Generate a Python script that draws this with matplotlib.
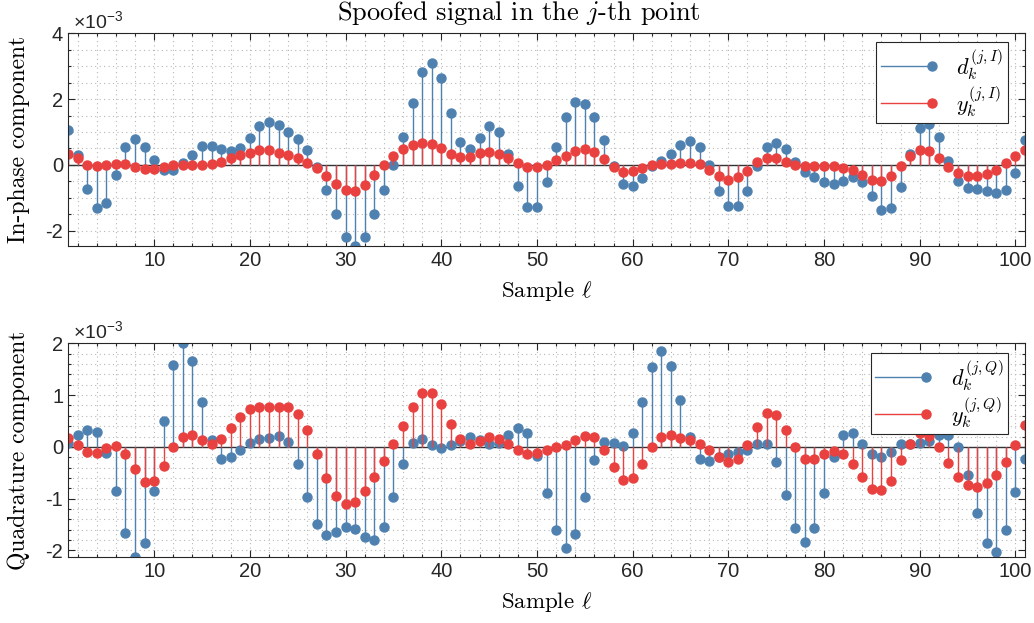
import numpy as np
import matplotlib
matplotlib.use('Agg')
import matplotlib.pyplot as plt
from matplotlib.lines import Line2D
from matplotlib.legend_handler import HandlerLine2D
from matplotlib.ticker import MultipleLocator

plt.rcParams['mathtext.fontset'] = 'cm'
plt.rcParams['axes.unicode_minus'] = False

# all amplitudes are in units of 1e-3
samples = np.arange(1, 102)

d_I = [1.05, 0.29, -0.73, -1.32, -1.16, -0.30, 0.54, 0.80, 0.54, 0.15,
       -0.15, -0.15, 0.05, 0.30, 0.56, 0.56, 0.49, 0.43, 0.52, 0.82,
       1.18, 1.31, 1.22, 1.01, 0.78, 0.45, -0.08, -0.78, -1.51, -2.19,
       -2.47, -2.19, -1.51, -0.76, -0.01, 0.84, 1.89, 2.81, 3.11, 2.63,
       1.59, 0.69, 0.48, 0.81, 1.18, 1.01, 0.32, -0.64, -1.29, -1.29,
       -0.52, 0.54, 1.44, 1.90, 1.85, 1.45, 0.75, -0.05, -0.59, -0.64,
       -0.39, -0.03, 0.12, 0.32, 0.59, 0.74, 0.53, -0.02, -0.79, -1.25,
       -1.25, -0.79, -0.05, 0.54, 0.67, 0.47, 0.10, -0.23, -0.38, -0.53,
       -0.58, -0.50, -0.38, -0.52, -0.96, -1.37, -1.31, -0.66, 0.32, 1.13,
       1.25, 0.86, 0.12, -0.48, -0.71, -0.74, -0.81, -0.86, -0.76, -0.24,
       0.76]

y_I = [0.34, 0.20, 0.01, -0.04, -0.01, 0.04, 0.02, -0.08, -0.14, -0.13,
       -0.08, -0.01, 0.00, 0.00, 0.00, 0.02, 0.10, 0.22, 0.29, 0.37,
       0.44, 0.44, 0.37, 0.29, 0.20, 0.07, -0.09, -0.34, -0.59, -0.77,
       -0.79, -0.61, -0.30, 0.01, 0.27, 0.47, 0.61, 0.67, 0.63, 0.50,
       0.32, 0.23, 0.25, 0.35, 0.39, 0.34, 0.22, 0.05, -0.06, -0.08,
       0.00, 0.16, 0.28, 0.42, 0.47, 0.39, 0.18, -0.08, -0.23, -0.20,
       -0.09, -0.01, 0.02, 0.02, 0.05, 0.07, 0.02, -0.15, -0.35, -0.46,
       -0.38, -0.18, 0.10, 0.22, 0.20, 0.08, -0.01, -0.04, -0.03, -0.03,
       -0.05, -0.10, -0.16, -0.31, -0.46, -0.48, -0.33, -0.04, 0.27, 0.46,
       0.42, 0.20, -0.06, -0.26, -0.34, -0.35, -0.29, -0.15, 0.05, 0.26,
       0.46]

d_Q = [0.08, 0.23, 0.33, 0.28, -0.12, -0.86, -1.67, -2.13, -1.86, -0.86,
       0.50, 1.59, 2.00, 1.65, 0.86, 0.14, -0.24, -0.20, -0.05, 0.08,
       0.15, 0.17, 0.21, 0.10, -0.33, -0.96, -1.48, -1.71, -1.65, -1.55,
       -1.59, -1.74, -1.79, -1.54, -0.96, -0.33, 0.08, 0.16, 0.03, -0.03,
       0.03, 0.12, 0.20, 0.13, 0.05, 0.08, 0.23, 0.36, 0.27, -0.17,
       -0.89, -1.60, -1.95, -1.68, -0.97, -0.26, 0.10, 0.07, 0.02, 0.26,
       0.87, 1.55, 1.86, 1.56, 0.90, 0.20, -0.23, -0.28, -0.20, -0.14,
       -0.09, -0.05, 0.05, 0.05, -0.29, -0.93, -1.56, -1.83, -1.56, -0.89,
       -0.19, 0.23, 0.26, 0.06, -0.14, -0.19, -0.10, 0.05, 0.05, 0.07,
       0.12, 0.23, 0.23, 0.00, -0.54, -1.27, -1.85, -2.03, -1.60, -0.87,
       -0.24]

y_Q = [0.18, 0.04, -0.09, -0.12, -0.03, 0.01, -0.14, -0.43, -0.68, -0.66,
       -0.37, -0.01, 0.20, 0.23, 0.13, 0.06, 0.15, 0.36, 0.57, 0.73,
       0.77, 0.77, 0.77, 0.77, 0.63, 0.32, -0.14, -0.60, -0.94, -1.10,
       -1.06, -0.86, -0.58, -0.28, 0.05, 0.41, 0.78, 1.04, 1.05, 0.82,
       0.44, 0.15, 0.06, 0.12, 0.19, 0.16, 0.06, -0.06, -0.13, -0.12,
       -0.06, -0.01, 0.04, 0.13, 0.21, 0.19, -0.05, -0.39, -0.64, -0.60,
       -0.33, -0.01, 0.20, 0.23, 0.18, 0.14, 0.05, -0.05, -0.19, -0.29,
       -0.24, 0.03, 0.39, 0.66, 0.61, 0.33, -0.01, -0.23, -0.23, -0.14,
       -0.07, -0.14, -0.33, -0.59, -0.81, -0.84, -0.66, -0.26, 0.05, 0.26,
       0.21, 0.00, -0.32, -0.59, -0.74, -0.77, -0.70, -0.55, -0.30, 0.03,
       0.42]

BLUE = '#4f81b0'
RED = '#e8413f'
TXT = '#262626'
SERIF = 'cmr10'
SANS = 'Liberation Sans'


class StemHandler(HandlerLine2D):
    """legend entry: line with the marker at its right end"""
    def create_artists(self, legend, orig_handle, xdescent, ydescent,
                       width, height, fontsize, trans):
        arts = super().create_artists(legend, orig_handle, xdescent, ydescent,
                                      width, height, fontsize, trans)
        if len(arts) == 1:
            arts[0].set_markevery([2])
        else:
            arts[1].set_xdata([width - xdescent])
        return arts


def stems(ax, vals, color):
    ml, sl, bl = ax.stem(samples, vals, basefmt=' ')
    plt.setp(sl, color=color, linewidth=1.0)
    plt.setp(ml, color=color, markersize=6.5)
    return ml


def setup(ax, ylim, yticks, yminor, ylabel):
    ax.set_xlim(1, 101)
    ax.set_ylim(*ylim)
    ax.set_xticks(np.arange(10, 101, 10))
    ax.xaxis.set_minor_locator(MultipleLocator(2))
    ax.set_yticks(yticks)
    ax.yaxis.set_minor_locator(MultipleLocator(yminor))
    ax.grid(which='both', linestyle=(0, (1, 3)), color='#b8b8b8', linewidth=0.8)
    ax.set_axisbelow(True)
    ax.axhline(0, color='#333333', linewidth=1.0, zorder=1.5)
    ax.tick_params(which='both', direction='in', top=True, right=True,
                   colors=TXT, labelsize=14.5, width=0.8)
    ax.tick_params(which='major', length=5)
    ax.tick_params(which='minor', length=2.5)
    for lab in ax.get_xticklabels() + ax.get_yticklabels():
        lab.set_family(SANS)
    for s in ax.spines.values():
        s.set_color(TXT)
        s.set_linewidth(0.8)
    ax.set_xlabel(r'Sample $\ell$', family=SERIF, fontsize=16.5, color='k', labelpad=7)
    ax.set_ylabel(ylabel, family=SERIF, fontsize=17, color='k')
    ax.yaxis.set_label_coords(-0.040, 0.5)
    ax.text(0.005, 1.005, r'$\mathregular{\times10^{-3}}$', transform=ax.transAxes,
            family=SANS, fontsize=14, color=TXT, ha='left', va='bottom')


fig = plt.figure(figsize=(10.34, 6.23), dpi=100)
ax1 = fig.add_axes([0.0658, 0.6056, 0.9255, 0.3409])
ax2 = fig.add_axes([0.0658, 0.1064, 0.9255, 0.3425])

stems(ax1, d_I, BLUE)
stems(ax1, y_I, RED)
setup(ax1, (-2.46, 4), [-2, 0, 2, 4], 0.5, 'In-phase component')

stems(ax2, d_Q, BLUE)
stems(ax2, y_Q, RED)
setup(ax2, (-2.12, 2.0), [-2, -1, 0, 1, 2], 0.2, 'Quadrature component')

fig.text(0.502, 0.979, r'Spoofed signal in the $j$-th point', family=SERIF,
         fontsize=19, ha='center', va='center', color='k')

for ax, tag, anchor in [(ax1, 'I', (0.982, 0.958)), (ax2, 'Q', (0.982, 0.953))]:
    h_d = Line2D([], [], color=BLUE, marker='o', markersize=6.5, linewidth=1.0)
    h_y = Line2D([], [], color=RED, marker='o', markersize=6.5, linewidth=1.0)
    leg = ax.legend([h_d, h_y], [r'$d_k^{(j,%s)}$' % tag, r'$y_k^{(j,%s)}$' % tag],
                    loc='upper right', bbox_to_anchor=anchor, borderaxespad=0,
                    handler_map={Line2D: StemHandler(numpoints=1)},
                    fontsize=16, handlelength=2.3, handletextpad=1.1,
                    labelspacing=0.1, borderpad=0.2, fancybox=False,
                    framealpha=1, edgecolor=TXT)
    leg.get_frame().set_linewidth(0.8)

fig.savefig('out.png', dpi=100)
